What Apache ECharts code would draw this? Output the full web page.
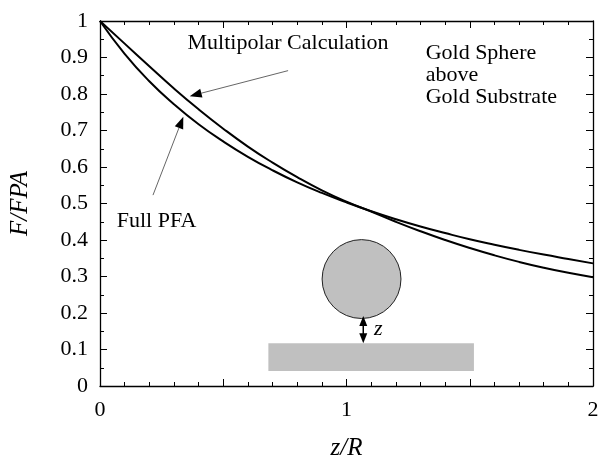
<!DOCTYPE html>
<html>
<head>
<meta charset="utf-8">
<script src="https://cdn.jsdelivr.net/npm/echarts@6/dist/echarts.min.js"></script>
<style>
  html, body { margin: 0; padding: 0; background: #fff; }
  #chart { width: 605px; height: 466px; }
</style>
</head>
<body>
<div id="chart"></div>
<script>
// Separation z/R
const zOverR = [0, 0.1, 0.2, 0.3, 0.4, 0.5, 0.6, 0.7, 0.8, 0.9, 1.0,
                1.1, 1.2, 1.3, 1.4, 1.5, 1.6, 1.7, 1.8, 1.9, 2.0];
// Force ratio from the multipolar calculation
const multipolar = [1.000, 0.938, 0.876, 0.815, 0.758, 0.705, 0.656, 0.612, 0.572, 0.536, 0.505,
                    0.478, 0.450, 0.424, 0.400, 0.378, 0.358, 0.340, 0.324, 0.310, 0.298];
// Force ratio from the full proximity force approximation
const fullPFA = [1.000, 0.910, 0.835, 0.772, 0.717, 0.670, 0.628, 0.591, 0.558, 0.529, 0.503,
                 0.479, 0.457, 0.437, 0.419, 0.402, 0.387, 0.373, 0.360, 0.348, 0.336];
const xLabelValues = [0, 1, 2];

const FONT = 'Liberation Serif';
const INK = '#000';
const TEXT_SIZE = 22;

const chart = echarts.init(document.getElementById('chart'), null, { renderer: 'canvas' });

const pairs = ys => zOverR.map((x, i) => [x, ys[i]]);

const axisCommon = {
  axisLine: { show: true, onZero: false, lineStyle: { color: INK, width: 1.3 } },
  axisTick: { show: true, inside: true, length: 7, lineStyle: { color: INK, width: 1 } },
  minorTick: { show: true, length: 4, lineStyle: { color: INK, width: 1 } },
  splitLine: { show: false },
  minorSplitLine: { show: false }
};

chart.setOption({
  animation: false,
  backgroundColor: '#fff',
  grid: { left: 100, right: 12, top: 21, bottom: 76, containLabel: false },
  xAxis: [
    Object.assign({}, axisCommon, {
      type: 'value', min: 0, max: 2, interval: 0.5,
      minorTick: Object.assign({}, axisCommon.minorTick, { splitNumber: 5 }),
      axisLabel: {
        color: INK, fontFamily: FONT, fontSize: TEXT_SIZE, margin: 13,
        formatter: v => xLabelValues.indexOf(v) >= 0 ? String(v) : ''
      },
      name: 'z/R', nameLocation: 'middle', nameGap: 50,
      nameTextStyle: { color: INK, fontFamily: FONT, fontSize: 25, fontStyle: 'italic' }
    }),
    Object.assign({}, axisCommon, {
      type: 'value', min: 0, max: 2, interval: 0.5, position: 'top',
      minorTick: Object.assign({}, axisCommon.minorTick, { splitNumber: 5 }),
      axisLabel: { show: false }
    })
  ],
  yAxis: [
    Object.assign({}, axisCommon, {
      type: 'value', min: 0, max: 1, interval: 0.1,
      minorTick: Object.assign({}, axisCommon.minorTick, { splitNumber: 2 }),
      axisLabel: { color: INK, fontFamily: FONT, fontSize: TEXT_SIZE, margin: 12 },
      name: 'F/FPA', nameLocation: 'middle', nameGap: 67,
      nameTextStyle: { color: INK, fontFamily: FONT, fontSize: 25, fontStyle: 'italic' }
    }),
    Object.assign({}, axisCommon, {
      type: 'value', min: 0, max: 1, interval: 0.1, position: 'right',
      minorTick: Object.assign({}, axisCommon.minorTick, { splitNumber: 2 }),
      axisLabel: { show: false }
    })
  ],
  series: [
    {
      name: 'Multipolar Calculation', type: 'line', xAxisIndex: 0, yAxisIndex: 0,
      data: pairs(multipolar), smooth: true, showSymbol: false,
      lineStyle: { color: INK, width: 2 }, z: 5
    },
    {
      name: 'Full PFA', type: 'line', xAxisIndex: 0, yAxisIndex: 0,
      data: pairs(fullPFA), smooth: true, showSymbol: false,
      lineStyle: { color: INK, width: 2 }, z: 5
    }
  ]
});

// Annotations and the sphere/substrate sketch, placed in data coordinates
const px = (x, y) => chart.convertToPixel({ xAxisIndex: 0, yAxisIndex: 0 }, [x, y]);

function pointer(from, to, headLen, headHalf) {
  const a = px(from[0], from[1]);
  const b = px(to[0], to[1]);
  const dx = b[0] - a[0], dy = b[1] - a[1];
  const len = Math.hypot(dx, dy);
  const ux = dx / len, uy = dy / len;
  const base = [b[0] - ux * headLen, b[1] - uy * headLen];
  return [
    { type: 'line', shape: { x1: a[0], y1: a[1], x2: base[0], y2: base[1] },
      style: { stroke: '#666', lineWidth: 1 }, z: 10 },
    { type: 'polygon', shape: { points: [
        b,
        [base[0] - uy * headHalf, base[1] + ux * headHalf],
        [base[0] + uy * headHalf, base[1] - ux * headHalf]
      ] }, style: { fill: INK }, z: 10 }
  ];
}

function label(text, x, y, opts) {
  const p = px(x, y);
  return {
    type: 'text', x: p[0], y: p[1], z: 10,
    style: Object.assign({ text: text, fill: INK, font: TEXT_SIZE + 'px "' + FONT + '"',
      textVerticalAlign: 'middle', textAlign: 'left' }, opts || {})
  };
}

const sphereC = px(1.061, 0.293);
const sphereR = px(0.16, 0)[0] - px(0, 0)[0];
const slabTL = px(0.683, 0.117);
const slabBR = px(1.517, 0.041);
const gapTop = px(1.068, 0.192);
const gapBot = px(1.068, 0.117);

const elements = [].concat(
  pointer([0.763, 0.864], [0.364, 0.794], 12, 4.5),
  pointer([0.215, 0.523], [0.338, 0.738], 12, 4.5),
  [
    label('Multipolar Calculation', 0.355, 0.94),
    label('Full PFA', 0.068, 0.452),
    label('Gold Sphere', 1.321, 0.912),
    label('above', 1.321, 0.852),
    label('Gold Substrate', 1.321, 0.792),
    { type: 'rect', shape: { x: slabTL[0], y: slabTL[1],
        width: slabBR[0] - slabTL[0], height: slabBR[1] - slabTL[1] },
      style: { fill: '#c0c0c0' }, z: 3 },
    { type: 'circle', shape: { cx: sphereC[0], cy: sphereC[1], r: sphereR },
      style: { fill: '#c0c0c0', stroke: '#222', lineWidth: 1 }, z: 3 },
    { type: 'line', shape: { x1: gapTop[0], y1: gapTop[1] + 8, x2: gapBot[0], y2: gapBot[1] - 8 },
      style: { stroke: INK, lineWidth: 1.5 }, z: 4 },
    { type: 'polygon', shape: { points: [[gapTop[0], gapTop[1]], [gapTop[0] - 4, gapTop[1] + 10], [gapTop[0] + 4, gapTop[1] + 10]] },
      style: { fill: INK }, z: 4 },
    { type: 'polygon', shape: { points: [[gapBot[0], gapBot[1]], [gapBot[0] - 4, gapBot[1] - 10], [gapBot[0] + 4, gapBot[1] - 10]] },
      style: { fill: INK }, z: 4 },
    label('z', 1.112, 0.156, { font: 'italic ' + TEXT_SIZE + 'px "' + FONT + '"' })
  ]
);

chart.setOption({ graphic: { elements: elements } });
</script>
</body>
</html>
